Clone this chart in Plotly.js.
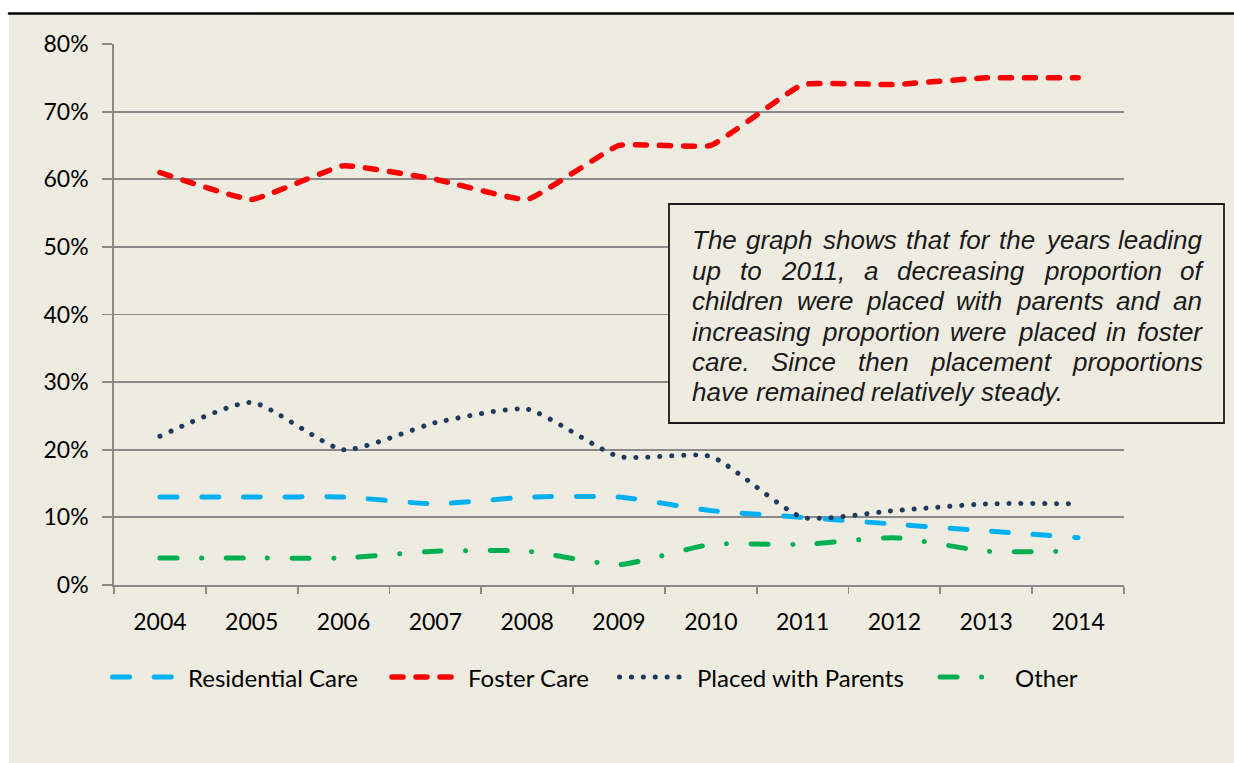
<!DOCTYPE html>
<html>
<head>
<meta charset="utf-8">
<script src="https://cdn.plot.ly/plotly-3.0.1.min.js"></script>
<style>
  html, body { margin: 0; padding: 0; background: #ffffff; }
  #chart { width: 1234px; height: 763px; }
  .scatterlayer .js-line { stroke-linecap: round; stroke-linejoin: round; }
</style>
</head>
<body>
<div id="chart"></div>
<script>
// ---- data ----
const years = ['2004','2005','2006','2007','2008','2009','2010','2011','2012','2013','2014'];
const residentialCare = [13, 13, 13, 12, 13, 13, 11, 10, 9, 8, 7];
const fosterCare      = [61, 57, 62, 60, 57, 65, 65, 74, 74, 75, 75];
const placedWithParents = [22, 27, 20, 24, 26, 19, 19, 10, 11, 12, 12];
const other           = [4, 4, 4, 5, 5, 3, 6, 6, 7, 5, 5];
const seriesNames = ['Residential Care', 'Foster Care', 'Placed with Parents', 'Other'];
const yTickValues = [0, 10, 20, 30, 40, 50, 60, 70, 80];
const noteLines = [
  'The graph shows that for the years leading',
  'up to 2011, a decreasing proportion of',
  'children were placed with parents and an',
  'increasing proportion were placed in foster',
  'care. Since then placement proportions',
  'have remained relatively steady.'
];

// ---- styles ----
const W = 1234, H = 763;
const M = {l: 114, r: 110, t: 44, b: 178};
const PW = W - M.l - M.r, PH = H - M.t - M.b;
const px2x = p => (p - M.l) / PW;
const py2y = p => (H - M.b - p) / PH;

const styles = [
  {color: '#00B0F0', width: 5,   dash: '17px,24.7px', shape: 'spline', smoothing: 0.5},
  {color: '#FF0000', width: 5.5, dash: '11px,13px',   shape: 'spline', smoothing: 0.3},
  {color: '#1F3A5F', width: 5,   dash: '0.1px,11.8px', shape: 'spline', smoothing: 0.55},
  {color: '#00B050', width: 5,   dash: '17px,24.5px,0.1px,24.5px', shape: 'spline', smoothing: 0.5}
];
const seriesValues = [residentialCare, fosterCare, placedWithParents, other];

const traces = seriesValues.map((vals, i) => ({
  type: 'scatter', mode: 'lines', x: years, y: vals, name: seriesNames[i],
  line: {color: styles[i].color, width: styles[i].width, dash: styles[i].dash,
         shape: styles[i].shape, smoothing: styles[i].smoothing},
  hoverinfo: 'skip'
}));

const beige = '#EEECE1';
const grid = '#8A8A8A';
const shapes = [
  {type: 'rect', xref: 'paper', yref: 'paper', layer: 'below',
   x0: px2x(9), x1: px2x(W + 5), y0: py2y(14), y1: py2y(H + 5),
   fillcolor: beige, line: {width: 0}},
  {type: 'line', xref: 'paper', yref: 'paper', layer: 'above',
   x0: px2x(9), x1: px2x(W + 5), y0: py2y(13.5), y1: py2y(13.5),
   line: {color: '#000000', width: 2.6}},
  {type: 'rect', xref: 'paper', yref: 'paper', layer: 'above',
   x0: px2x(669), x1: px2x(1224), y0: py2y(204), y1: py2y(423),
   fillcolor: beige, line: {color: '#1a1a1a', width: 1.8}}
];

// legend (drawn manually to match symbol lengths)
const legendY = 677;
const legendItems = [
  {x0: 112.5, x1: 171.5, tx: 188},
  {x0: 392,   x1: 451,   tx: 468},
  {x0: 619.5, x1: 681.5, tx: 697},
  {x0: 940,   x1: 982,   tx: 1015}
];
const annotations = [];
legendItems.forEach((it, i) => {
  shapes.push({type: 'line', xref: 'paper', yref: 'paper', layer: 'above',
    x0: px2x(it.x0), x1: px2x(it.x1), y0: py2y(legendY), y1: py2y(legendY),
    line: {color: styles[i].color, width: styles[i].width, dash: styles[i].dash}});
  annotations.push({xref: 'paper', yref: 'paper', x: px2x(it.tx), y: py2y(legendY),
    xanchor: 'left', yanchor: 'middle', showarrow: false, text: seriesNames[i],
    borderpad: 0, borderwidth: 0,
    font: {family: 'Lato, sans-serif', size: 24, color: '#000000'}});
});

// justified note text, word by word
const noteFont = 26;
const noteLeft = 692, noteRight = 1202;
const noteCenters = [240, 270.5, 301, 331.5, 362, 392];
const cv = document.createElement('canvas').getContext('2d');
cv.font = 'italic ' + noteFont + 'px "Liberation Sans"';
noteLines.forEach((line, li) => {
  const words = line.split(' ');
  const widths = words.map(w => cv.measureText(w).width);
  const total = widths.reduce((a, b) => a + b, 0);
  const justify = li < noteLines.length - 1;
  const gap = justify ? (noteRight - noteLeft - total) / (words.length - 1) : cv.measureText(' ').width;
  let x = noteLeft;
  words.forEach((w, wi) => {
    annotations.push({xref: 'paper', yref: 'paper', x: px2x(x), y: py2y(noteCenters[li]),
      xanchor: 'left', yanchor: 'middle', showarrow: false, text: w,
      borderpad: 0, borderwidth: 0,
      font: {family: '"Liberation Sans", Arial, sans-serif', size: noteFont, style: 'italic', color: '#1a1a1a'}});
    x += widths[wi] + gap;
  });
});

const layout = {
  width: W, height: H,
  margin: M,
  paper_bgcolor: '#ffffff',
  plot_bgcolor: 'rgba(0,0,0,0)',
  showlegend: false,
  font: {family: 'Lato, sans-serif', color: '#000000'},
  xaxis: {
    type: 'category', categoryorder: 'array', categoryarray: years,
    range: [-0.5, years.length - 0.5],
    showgrid: false, zeroline: false,
    showline: true, linecolor: grid, linewidth: 1.8,
    ticks: 'outside', tickson: 'boundaries', ticklen: 7, tickcolor: grid, tickwidth: 1.8,
    tickfont: {family: 'Lato, sans-serif', size: 23, color: '#000000'},
    ticklabelstandoff: 16,
    fixedrange: true
  },
  yaxis: {
    range: [0, 80], tickvals: yTickValues, ticktext: yTickValues.map(v => v + '%'),
    showgrid: true, gridcolor: grid, gridwidth: 1.8,
    zeroline: false,
    showline: true, linecolor: grid, linewidth: 1.8,
    ticks: 'outside', ticklen: 10, tickcolor: grid, tickwidth: 1.8,
    tickfont: {family: 'Lato, sans-serif', size: 23, color: '#000000'},
    ticklabelstandoff: 9,
    fixedrange: true
  },
  shapes: shapes,
  annotations: annotations
};

Plotly.newPlot('chart', traces, layout, {displayModeBar: false, staticPlot: true}).then(() => {
  document.querySelectorAll('.shapelayer path').forEach(p => {
    p.style.strokeLinecap = 'round';
  });
});
</script>
</body>
</html>
